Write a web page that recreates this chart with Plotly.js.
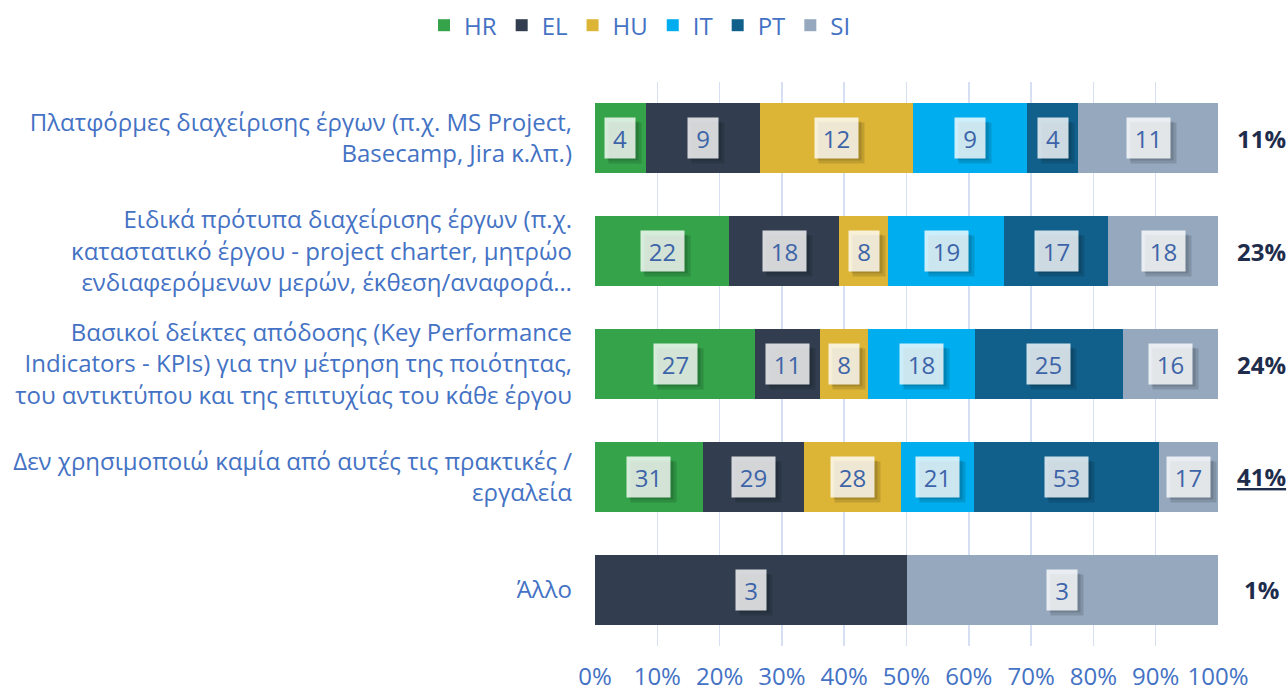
<!DOCTYPE html>
<html>
<head>
<meta charset="utf-8">
<script src="https://cdn.plot.ly/plotly-3.0.1.min.js"></script>
<style>html,body{margin:0;padding:0;background:#fff;}#chart{width:1287px;height:691px;}</style>
</head>
<body>
<div id="chart"></div>
<script>
const categories = [
  "Πλατφόρμες διαχείρισης έργων (π.χ. MS Project,<br>Basecamp, Jira κ.λπ.)",
  "Ειδικά πρότυπα διαχείρισης έργων (π.χ.<br>καταστατικό έργου - project charter, μητρώο<br>ενδιαφερόμενων μερών, έκθεση/αναφορά…",
  "Βασικοί δείκτες απόδοσης (Key Performance<br>Indicators - KPIs) για την μέτρηση της ποιότητας,<br>του αντικτύπου και της επιτυχίας του κάθε έργου",
  "Δεν χρησιμοποιώ καμία από αυτές τις πρακτικές /<br>εργαλεία",
  "Άλλο"
];
const seriesNames = ["HR", "EL", "HU", "IT", "PT", "SI"];
const HR = [4, 22, 27, 31, 0];
const EL = [9, 18, 11, 29, 3];
const HU = [12, 8, 8, 28, 0];
const IT = [9, 19, 18, 21, 0];
const PT = [4, 17, 25, 53, 0];
const SI = [11, 18, 16, 17, 3];
const totals = ["<b>11%</b>", "<b>23%</b>", "<b>24%</b>", "<b><u>41%</u></b>", "<b>1%</b>"];
const colors = ["#34a34a", "#323e4f", "#dcb537", "#00aeef", "#11608c", "#95a8be"];

const series = [HR, EL, HU, IT, PT, SI];
const FONT = "Open Sans, Noto Sans, sans-serif";
const TEXTC = "#4472c4";

const traces = series.map((vals, i) => ({
  type: "bar",
  orientation: "h",
  name: seriesNames[i],
  x: vals,
  y: categories,
  marker: {color: colors[i], line: {width: 0}},
  hoverinfo: "none"
}));

const annotations = [];
categories.forEach((cat, r) => {
  const total = series.reduce((s, v) => s + v[r], 0);
  let cum = 0;
  series.forEach((vals, i) => {
    const v = vals[r];
    if (v > 0) {
      const mid = (cum + v / 2) / total * 100;
      const w = String(v).length === 1 ? 30 : 43;
      annotations.push({
        x: mid, y: cat, xref: "x", yref: "y", text: "", showarrow: false,
        width: w + 2, height: 40, borderpad: 0, xshift: 5, yshift: -5,
        bgcolor: "rgba(0,0,0,0.13)"
      });
      annotations.push({
        x: mid, y: cat, xref: "x", yref: "y", text: "", showarrow: false,
        width: w, height: 38, borderpad: 0, xshift: 3, yshift: -3,
        bgcolor: "rgba(0,0,0,0.12)"
      });
      annotations.push({
        x: mid, y: cat, xref: "x", yref: "y", text: String(v), showarrow: false,
        width: w, height: 40, borderpad: 0,
        bgcolor: "rgba(255,255,255,0.8)",
        font: {family: FONT, size: 24, color: "#3d64a8"}
      });
    }
    cum += v;
  });
  annotations.push({
    x: 1.0706, xref: "paper", y: cat, yref: "y", text: totals[r], showarrow: false,
    xanchor: "center", font: {family: FONT, size: 24, color: "#1f2d4d"}
  });
});

const layout = {
  width: 1287, height: 691,
  margin: {l: 595, r: 69, t: 82, b: 45, autoexpand: false},
  paper_bgcolor: "#fff", plot_bgcolor: "#fff",
  barmode: "stack", barnorm: "percent", bargap: 0.38,
  font: {family: FONT, color: TEXTC},
  showlegend: true,
  legend: {orientation: "h", x: 0.0722, xanchor: "center", y: 1.1, yanchor: "middle",
           font: {family: FONT, size: 24, color: TEXTC}, itemwidth: 30, traceorder: "normal"},
  xaxis: {range: [0, 100], dtick: 10, ticksuffix: "%", showgrid: true, gridcolor: "#d6e0f2", gridwidth: 1.5,
          zeroline: false, showline: false, tickfont: {family: FONT, size: 24, color: TEXTC},
          ticklabelstandoff: 14, fixedrange: true},
  yaxis: {autorange: "reversed", showgrid: false, zeroline: false, showline: false,
          tickfont: {family: FONT, size: 24, color: TEXTC}, ticklabelstandoff: 22, fixedrange: true},
  annotations: annotations
};

Plotly.newPlot("chart", traces, layout, {displayModeBar: false, staticPlot: true});
</script>
</body>
</html>
